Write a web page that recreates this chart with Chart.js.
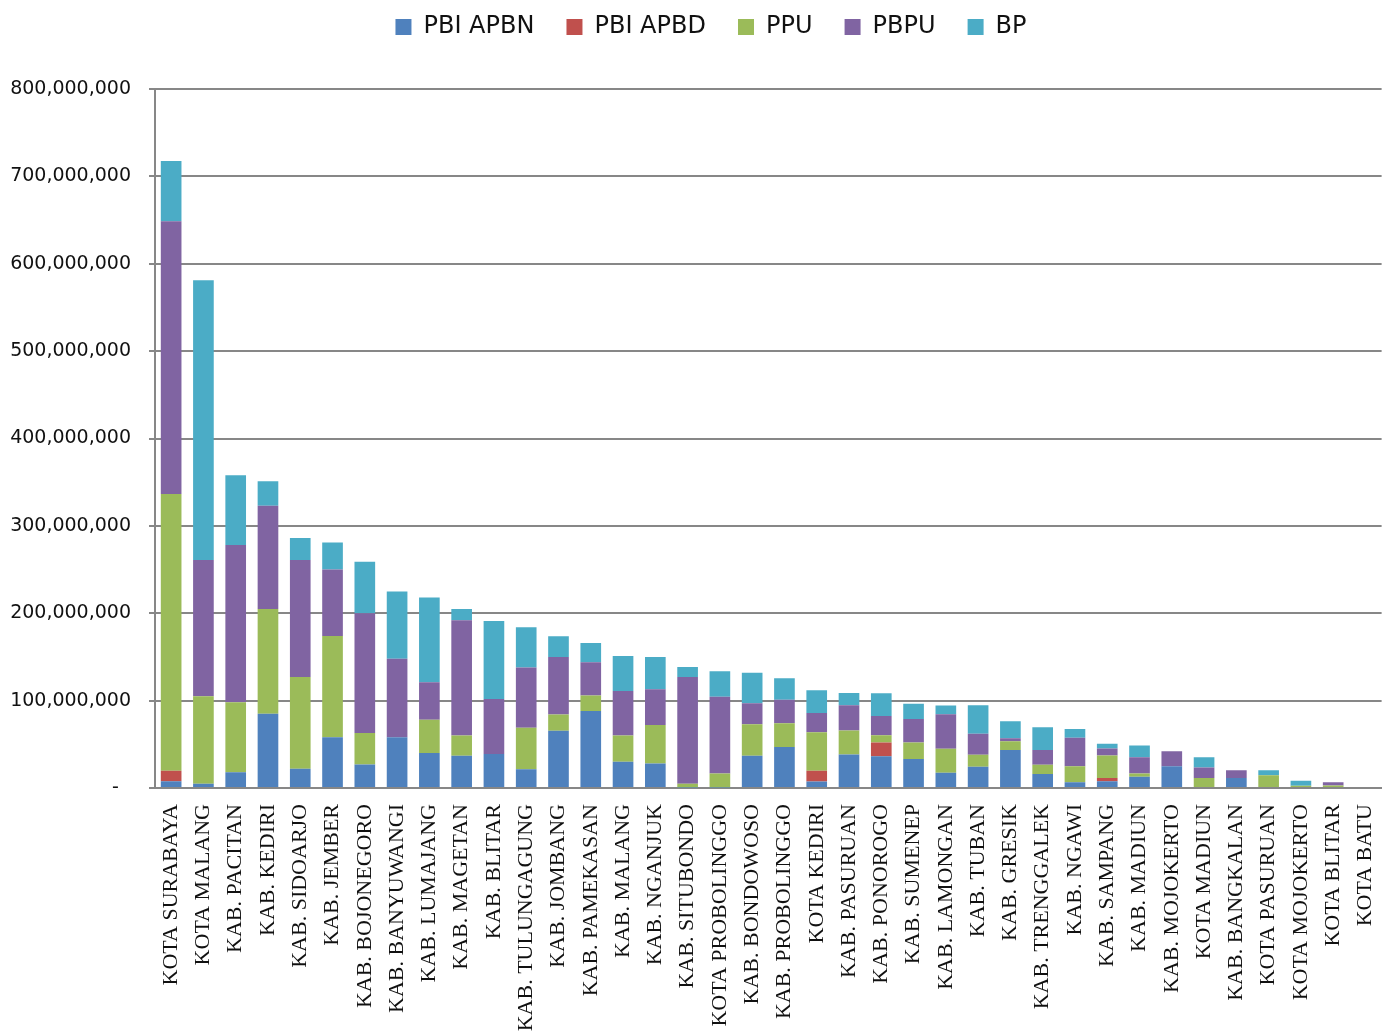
<!DOCTYPE html>
<html>
<head>
<meta charset="utf-8">
<script src="https://cdn.jsdelivr.net/npm/chart.js@4/dist/chart.umd.min.js"></script>
<style>
  html, body { margin: 0; padding: 0; background: #fff; }
  #wrap { width: 1400px; height: 1035px; position: relative; }
</style>
</head>
<body>
<div id="wrap"><canvas id="c"></canvas></div>
<script>
// Values, in millions
const UNIT = 1000000;
const categories = [
  'KOTA SURABAYA','KOTA MALANG','KAB. PACITAN','KAB. KEDIRI','KAB. SIDOARJO','KAB. JEMBER',
  'KAB. BOJONEGORO','KAB. BANYUWANGI','KAB. LUMAJANG','KAB. MAGETAN','KAB. BLITAR',
  'KAB. TULUNGAGUNG','KAB. JOMBANG','KAB. PAMEKASAN','KAB. MALANG','KAB. NGANJUK',
  'KAB. SITUBONDO','KOTA PROBOLINGGO','KAB. BONDOWOSO','KAB. PROBOLINGGO','KOTA KEDIRI',
  'KAB. PASURUAN','KAB. PONOROGO','KAB. SUMENEP','KAB. LAMONGAN','KAB. TUBAN','KAB. GRESIK',
  'KAB. TRENGGALEK','KAB. NGAWI','KAB. SAMPANG','KAB. MADIUN','KAB. MOJOKERTO','KOTA MADIUN',
  'KAB. BANGKALAN','KOTA PASURUAN','KOTA MOJOKERTO','KOTA BLITAR','KOTA BATU'
];
const pbiApbn = [7.6,5,18,85,22,58,27,58,40,37,39,21.5,65.5,88,30,28,0.5,0.5,37,47,7.4,38.4,36.4,33.3,17.4,24.4,43.4,16,6.5,7.7,13,24.9,0,11.5,0,0,0,0];
const pbiApbd = [12,0,0,0,0,0,0,0,0,0,0,0,0,0,0,0,0,0,0,0,12.4,0,15.6,0,0,0,0,0,0,3.8,0,0,0,0,0,0,0,0];
const ppu     = [317,100,80,120,105,116,36,0,38,23,0,47.5,18.5,18,30,44,4.5,16,36,27,44,27.5,8.5,18.7,27.6,13.6,10,10.5,18.4,25.7,3.5,0,11.5,0,14.6,2.7,3,0];
const pbpu    = [312,156,180,118,134,76,137,90,43,132,63,69,66,38,51,41,122,88,24,27,22,28.7,22,27,39.5,24,3.5,17,32.6,8,18.7,17.2,12,8.8,0,0,3.5,0];
const bp      = [69,320,80,28,25,31,59,77,97,13,89,46,23.6,22,40,37,11.5,29,35,24.6,26,14,26,17.5,10,32.6,19.4,26,10,5.4,13.5,0,11.7,0,5.7,5.7,0,0];
const seriesNames = ['PBI APBN','PBI APBD','PPU','PBPU','BP'];
const seriesValues = [pbiApbn, pbiApbd, ppu, pbpu, bp];
const seriesColors = ['#4F81BD','#C0504D','#9BBB59','#8064A2','#4BACC6'];
const yTickMax = 800000000;
const yTickStep = 100000000;

const GRID = '#878787';
const LEGEND_SHIFT = 16;
const LEGEND_DROP = 3;

const layoutFix = {
  id: 'layoutFix',
  beforeInit(chart) {
    const orig = chart.legend.fit;
    chart.legend.fit = function () { orig.call(this); this.height = 89; };
  },
  afterLayout(chart) {
    chart.legend.left += LEGEND_SHIFT;
    chart.legend.right += LEGEND_SHIFT;
    chart.legend.top += LEGEND_DROP;
  }
};

new Chart(document.getElementById('c'), {
  type: 'bar',
  data: {
    labels: categories,
    datasets: seriesNames.map((name, i) => ({
      label: name,
      data: seriesValues[i].map(v => v * UNIT),
      backgroundColor: seriesColors[i],
      borderWidth: 0,
      barPercentage: 0.64,
      categoryPercentage: 1.0
    }))
  },
  options: {
    responsive: true,
    maintainAspectRatio: false,
    animation: false,
    devicePixelRatio: 1,
    layout: { padding: { left: 0, right: 10, top: 0, bottom: 0 } },
    plugins: {
      tooltip: { enabled: false },
      legend: {
        position: 'top',
        labels: {
          boxWidth: 16,
          boxHeight: 16,
          padding: 12,
          color: '#111',
          font: { family: 'DejaVu Sans', size: 24 },
          generateLabels(chart) {
            const items = Chart.defaults.plugins.legend.labels.generateLabels(chart);
            items.forEach((it, i) => {
              if (i < items.length - 1) it.text = it.text + '  \u2009';
              it.lineWidth = 0;
            });
            return items;
          }
        }
      }
    },
    scales: {
      x: {
        stacked: true,
        grid: { display: false },
        border: { display: true, color: GRID, width: 2 },
        ticks: {
          autoSkip: false,
          maxRotation: 90,
          minRotation: 90,
          padding: 8,
          color: '#111',
          font: { family: 'Liberation Serif', size: 22 }
        },
        afterFit(scale) { scale.height = 247; }
      },
      y: {
        stacked: true,
        min: 0,
        max: yTickMax,
        grid: { color: GRID, lineWidth: 2, tickLength: 6, tickColor: GRID },
        border: { display: true, color: GRID, width: 2 },
        ticks: {
          stepSize: yTickStep,
          padding: 18,
          color: '#111',
          font: { family: 'DejaVu Sans', size: 19 },
          callback(v) { return v === 0 ? '-  ' : v.toLocaleString('en-US'); }
        },
        afterFit(scale) { scale.width = 155; }
      }
    }
  },
  plugins: [layoutFix]
});
</script>
</body>
</html>
